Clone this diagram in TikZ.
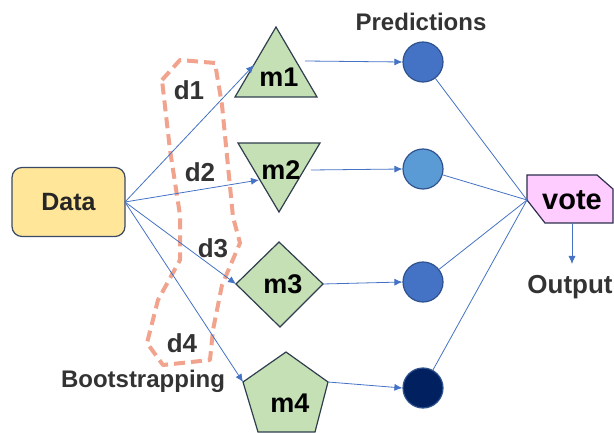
\documentclass[tikz,border=0pt]{standalone}
\usepackage{fontspec}
\setmainfont{Liberation Sans}
\usetikzlibrary{arrows.meta}
\definecolor{linec}{HTML}{4472C4}
\definecolor{greenf}{HTML}{C5E0B4}
\definecolor{greenb}{HTML}{2F3E4E}
\definecolor{dataf}{HTML}{FFE699}
\definecolor{datab}{HTML}{3A4A66}
\definecolor{pinkf}{HTML}{FFCCFF}
\definecolor{pinkb}{HTML}{2E2E4E}
\definecolor{c1}{HTML}{4472C4}
\definecolor{c2}{HTML}{5B9BD5}
\definecolor{c4}{HTML}{002060}
\definecolor{circb}{HTML}{2F528F}
\definecolor{dashc}{HTML}{F2A38E}
\definecolor{txt}{HTML}{333333}
\begin{document}
\begin{tikzpicture}[x=1pt,y=-1pt,
  conn/.style={draw=linec,line width=0.8pt},
  arr/.style={conn,-{Latex[length=8pt,width=7pt]}},
  model/.style={fill=greenf,draw=greenb,line width=1.2pt,line join=miter},
  pred/.style={circle,minimum size=40pt,inner sep=0pt,draw=circb,line width=1.2pt},
  lbl/.style={font=\fontsize{26}{30}\selectfont\bfseries,text=txt,inner sep=0pt},
  mlbl/.style={font=\fontsize{27}{30}\selectfont\bfseries,text=black,inner sep=0pt},
  small/.style={font=\fontsize{24}{26}\selectfont\bfseries,text=txt,inner sep=0pt}]
\useasboundingbox (0,0) rectangle (614,433);
% Data
\node[draw=datab,fill=dataf,line width=1.2pt,rounded corners=10pt,minimum width=113pt,minimum height=69pt,inner sep=0pt,
  font=\fontsize{25}{30}\selectfont\bfseries,text=black!85] (data) at (68.5,202) {Data};
\coordinate (src) at (125,202);
% dashed bootstrap outline
\draw[dashc,line width=4pt,dash pattern=on 11pt off 6pt,line join=round,line cap=butt]
  (162,80) -- (180,60) -- (215,63) -- (222,105) -- (233,217) -- (240,243) -- (222,285)
  -- (213,330) -- (210,360) -- (163,365) -- (147,343) -- (158,300) -- (180,260)
  -- (180,215) -- (170,150) -- cycle;
% models
\draw[model] (276,27) -- (317,97) -- (235,97) -- cycle;
\draw[model] (238,143) -- (320,143) -- (279,212) -- cycle;
\draw[model] (236,284) -- (279,242) -- (323,284) -- (280,327) -- cycle;
\draw[model] (286,352) -- (328,382) -- (315,432) -- (258,432) -- (243,382) -- cycle;
\node[mlbl] (m1) at (279,77) {m1};
\node[mlbl] (m2) at (281,170) {m2};
\node[mlbl] (m3) at (283,284) {m3};
\node[mlbl] (m4) at (290,403) {m4};
\coordinate (m1in) at (254,65);
\coordinate (m2in) at (259,180);
\coordinate (m3in) at (236,284);
\coordinate (m4in) at (243,382);
\coordinate (m1out) at (305,61);
\coordinate (m2out) at (311,170);
\coordinate (m3out) at (323,284);
\coordinate (m4out) at (328,382);
% predictions
\node[pred,fill=c1] (p1) at (423,62) {};
\node[pred,fill=c2] (p2) at (423,169) {};
\node[pred,fill=c1] (p3) at (423,282) {};
\node[pred,fill=c4] (p4) at (423,388) {};
\node[small] (predl) at (421,22) {Predictions};
% vote
\draw[fill=pinkf,draw=pinkb,line width=1.2pt] (527,175) -- (597,175) -- (613,189) -- (613,223) -- (545,223) -- (527,200) -- cycle;
\coordinate (vin) at (527,200);
\coordinate (vbot) at (572,223);
\node[font=\fontsize{29}{30}\selectfont\bfseries,text=black,inner sep=0pt] (vote) at (572,200) {vote};
\node[font=\fontsize{26}{28}\selectfont\bfseries,text=txt,inner sep=0pt] (out) at (570,287) {Output};
\coordinate (outtop) at (572,264);
% labels
\node[lbl] (d1) at (189,90) {d1};
\node[lbl] (d2) at (200,172) {d2};
\node[lbl] (d3) at (213,248) {d3};
\node[lbl] (d4) at (182,343) {d4};
\node[small] (boot) at (143,381) {Bootstrapping};
% connectors
\draw[arr] (src) -- (m1in);
\draw[arr] (src) -- (m2in);
\draw[arr] (src) -- (m3in);
\draw[arr] (src) -- (m4in);
\draw[arr] (m1out) -- (p1.west);
\draw[arr] (m2out) -- (p2.west);
\draw[arr] (m3out) -- (p3.west);
\draw[arr] (m4out) -- (p4.west);
\draw[conn] (p1) -- (vin);
\draw[conn] (p2) -- (vin);
\draw[conn] (p3) -- (vin);
\draw[conn] (p4) -- (vin);
\draw[arr] (vbot) -- (outtop);
\end{tikzpicture}
\end{document}
